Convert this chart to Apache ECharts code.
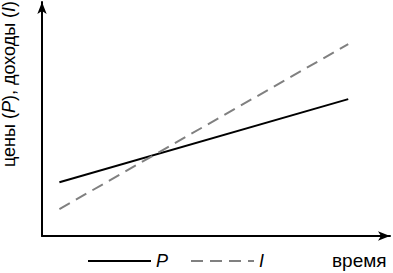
<!DOCTYPE html>
<html><head><meta charset="utf-8">
<script src="https://cdn.jsdelivr.net/npm/echarts@6/dist/echarts.min.js"></script>
<style>html,body{margin:0;padding:0;background:#fff}#c{width:393px;height:273px}</style>
</head><body><div id="c"></div>
<script>
const time = [5, 88];
const prices = [23, 58.5];
const incomes = [11.5, 82];
const seriesNames = ['P', 'I'];
const yName = 'цены ({i|P}), доходы ({i|I})';
const xName = 'время';

const chart = echarts.init(document.getElementById('c'), null, {renderer: 'svg'});
chart.setOption({
  animation: false,
  grid: {left: 42, right: 3, top: 2, bottom: 37, outerBoundsMode: 'none', containLabel: false},
  legend: {
    left: 87, top: 252, itemWidth: 63, itemHeight: 16, itemGap: 22, padding: 0,
    itemStyle: {color: 'transparent', borderWidth: 0, opacity: 0},
    textStyle: {fontSize: 18, fontStyle: 'italic', color: '#000', fontFamily: 'Liberation Sans, Arial'},
    data: seriesNames
  },
  xAxis: {
    type: 'value', min: 0, max: 100,
    axisLine: {lineStyle: {color: '#000', width: 2}, symbol: ['none', 'arrow'], symbolSize: [7, 12]},
    axisTick: {show: false}, axisLabel: {show: false}, splitLine: {show: false},
    name: xName, nameLocation: 'end', nameGap: -58,
    nameTextStyle: {fontSize: 19, color: '#000', verticalAlign: 'top', padding: [15, 0, 0, 0], fontFamily: 'Liberation Sans, Arial'}
  },
  yAxis: {
    type: 'value', min: 0, max: 100,
    axisLine: {lineStyle: {color: '#000', width: 2}, symbol: ['none', 'arrow'], symbolSize: [7, 12]},
    axisTick: {show: false}, axisLabel: {show: false}, splitLine: {show: false},
    name: yName, nameLocation: 'middle', nameRotate: 90, nameGap: 24,
    nameTextStyle: {fontSize: 18, color: '#000', fontFamily: 'Liberation Sans, Arial', padding: [0, 0, 0, 70],
      rich: {i: {fontSize: 18, fontStyle: 'italic', color: '#000', fontFamily: 'Liberation Sans, Arial'}}}
  },
  series: [
    {name: seriesNames[0], type: 'line', symbol: 'none', data: time.map((t, i) => [t, prices[i]]),
     lineStyle: {color: '#000', width: 2}, itemStyle: {color: '#000'}},
    {name: seriesNames[1], type: 'line', symbol: 'none', data: time.map((t, i) => [t, incomes[i]]),
     lineStyle: {color: '#808080', width: 2, type: [12, 7]}, itemStyle: {color: '#808080'}}
  ]
});
</script></body></html>
